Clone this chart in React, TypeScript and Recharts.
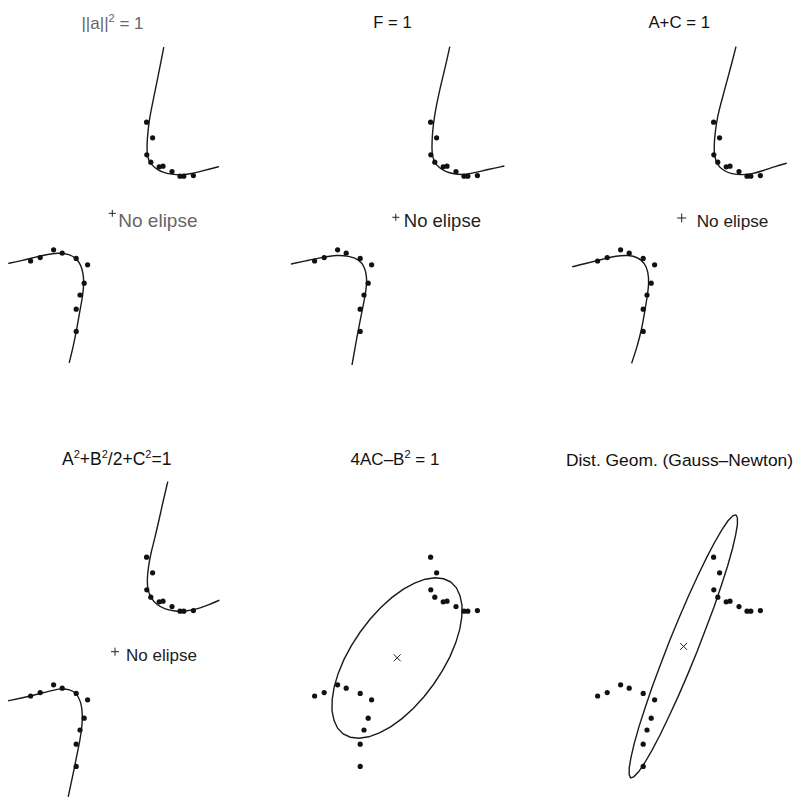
import React from 'react';
import { ScatterChart, Scatter, XAxis, YAxis } from 'recharts';

// the same 20 samples are drawn in every panel
const samples: [number, number][] = [
  [1.73, 4.79], [2.03, 4.01], [1.74, 3.16], [1.94, 2.79], [2.36, 2.56],
  [2.55, 2.59], [3.0, 2.32], [3.4, 2.09], [3.59, 2.09], [4.07, 2.12],
  [-4.07, -2.15], [-3.59, -1.98], [-2.92, -1.59], [-2.49, -1.76], [-1.79, -2.02],
  [-1.22, -2.34], [-1.39, -3.26], [-1.6, -3.85], [-1.79, -4.56], [-1.79, -5.67],
];

// hyperbola branches (no ellipse found)
const upper1: [number, number][] = [
  [2.59, 8.54], [2.4, 7.57], [2.2, 6.57], [1.99, 5.57], [1.85, 4.82], [1.79, 4.24],
  [1.75, 3.74], [1.75, 3.24], [1.82, 2.9], [1.99, 2.65], [2.24, 2.44], [2.57, 2.27],
  [2.99, 2.19], [3.4, 2.14], [3.9, 2.2], [4.4, 2.32], [4.9, 2.45], [5.35, 2.57],
];
const lower1: [number, number][] = [
  [-5.19, -2.27], [-4.6, -2.15], [-3.94, -1.99], [-3.27, -1.82], [-2.69, -1.74],
  [-2.19, -1.8], [-1.8, -1.99], [-1.55, -2.35], [-1.44, -2.77], [-1.4, -3.27],
  [-1.47, -3.94], [-1.6, -4.6], [-1.77, -5.6], [-1.94, -6.44], [-2.14, -7.24],
];
const upper2: [number, number][] = [
  [2.69, 8.57], [2.47, 7.57], [2.22, 6.57], [1.97, 5.4], [1.85, 4.57], [1.8, 3.9],
  [1.79, 3.23], [1.89, 2.82], [2.14, 2.52], [2.47, 2.32], [2.89, 2.2], [3.39, 2.15],
  [3.97, 2.27], [4.64, 2.44], [5.42, 2.6],
];
const lower2: [number, number][] = [
  [-5.25, -2.3], [-4.54, -2.15], [-3.7, -1.97], [-2.95, -1.85], [-2.37, -1.9],
  [-1.84, -2.07], [-1.57, -2.44], [-1.45, -2.94], [-1.49, -3.6], [-1.62, -4.27],
  [-1.79, -5.1], [-1.95, -5.94], [-2.2, -7.35],
];
const upper3: [number, number][] = [
  [2.85, 8.57], [2.64, 7.74], [2.39, 6.82], [2.14, 5.9], [1.92, 5.07], [1.8, 4.24],
  [1.75, 3.57], [1.77, 3.07], [1.92, 2.65], [2.22, 2.37], [2.64, 2.2], [3.14, 2.15],
  [3.64, 2.2], [4.22, 2.37], [4.8, 2.57], [5.39, 2.74],
];
const lower3: [number, number][] = [
  [-5.34, -2.44], [-4.62, -2.27], [-3.87, -2.07], [-3.12, -1.89], [-2.54, -1.85],
  [-2.04, -1.97], [-1.7, -2.27], [-1.54, -2.69], [-1.5, -3.27], [-1.59, -3.94],
  [-1.7, -4.6], [-1.87, -5.6], [-2.12, -6.52], [-2.37, -7.27],
];
const upper4: [number, number][] = [
  [2.79, 8.57], [2.57, 7.65], [2.35, 6.65], [2.12, 5.65], [1.94, 4.99], [1.82, 4.32],
  [1.75, 3.65], [1.79, 3.15], [1.94, 2.74], [2.24, 2.4], [2.65, 2.19], [3.15, 2.08],
  [3.65, 2.08], [4.24, 2.19], [4.82, 2.4], [5.37, 2.64],
];
const lower4: [number, number][] = [
  [-5.19, -2.39], [-4.6, -2.27], [-3.94, -2.12], [-3.27, -1.94], [-2.6, -1.77],
  [-2.1, -1.82], [-1.77, -2.02], [-1.55, -2.44], [-1.47, -3.02], [-1.5, -3.69],
  [-1.6, -4.35], [-1.74, -5.02], [-1.9, -5.85], [-2.19, -7.19],
];

// ellipse outlines (4AC-B^2=1 and geometric distance)
const ellipse5: [number, number][] = [
  [2.74, 3.55], [2.38, 3.71], [1.95, 3.76], [1.46, 3.69], [0.93, 3.49], [0.37, 3.19],
  [-0.2, 2.78], [-0.76, 2.27], [-1.3, 1.69], [-1.79, 1.05], [-2.23, 0.37], [-2.6, -0.32],
  [-2.89, -1.02], [-3.09, -1.69], [-3.19, -2.32], [-3.2, -2.88], [-3.1, -3.37], [-2.92, -3.76],
  [-2.64, -4.05], [-2.28, -4.21], [-1.85, -4.26], [-1.36, -4.19], [-0.83, -3.99], [-0.27, -3.69],
  [0.3, -3.28], [0.86, -2.77], [1.4, -2.19], [1.89, -1.55], [2.33, -0.87], [2.7, -0.18],
  [2.99, 0.52], [3.19, 1.19], [3.29, 1.82], [3.3, 2.38], [3.2, 2.87], [3.02, 3.26],
];
const ellipse6: [number, number][] = [
  [2.85, 6.91], [2.69, 6.86], [2.45, 6.61], [2.15, 6.17], [1.79, 5.55], [1.38, 4.77],
  [0.94, 3.86], [0.47, 2.84], [0.0, 1.75], [-0.47, 0.61], [-0.91, -0.54], [-1.33, -1.66],
  [-1.69, -2.72], [-2.0, -3.68], [-2.24, -4.53], [-2.4, -5.22], [-2.49, -5.75], [-2.49, -6.09],
  [-2.42, -6.24], [-2.26, -6.19], [-2.02, -5.94], [-1.72, -5.5], [-1.36, -4.88], [-0.95, -4.1],
  [-0.51, -3.19], [-0.04, -2.17], [0.43, -1.08], [0.9, 0.06], [1.34, 1.21], [1.76, 2.33],
  [2.12, 3.39], [2.43, 4.35], [2.67, 5.2], [2.83, 5.89], [2.92, 6.42], [2.92, 6.76],
];

// conic centres
const centers: [number, number][] = [
  [0.015, 0.235], [-0.01, 0.035], [0.135, 0.0], [0.15, 0.065], [0.06, -0.24], [0.23, 0.33],
];

// titles, "^" marks a superscript piece
const titles: string[][] = [
  ['||a||', '^2', ' = 1'],
  ['F = 1'],
  ['A+C = 1'],
  ['A', '^2', '+B', '^2', '/2+C', '^2', '=1'],
  ['4AC–B', '^2', ' = 1'],
  ['Dist. Geom. (Gauss–Newton)'],
];

const W = 232;
const H = 365;
const colLeft = [0, 284, 567];
const rowTop = [0, 435];
const font = '"Liberation Sans", Arial, Helvetica, sans-serif';

type Panel = {
  curves: [number, number][][];
  closed: boolean;
  center: [number, number];
  marker: '+' | 'x';
  markerSize: number;
  note?: { dx: number; dy: number; size: number; color: string };
  title: { x: number; y: number; size: number; color: string };
  col: number;
  row: number;
};

const panels: Panel[] = [
  { curves: [upper1, lower1], closed: false, center: centers[0], marker: '+', markerSize: 3.5,
    note: { dx: 6, dy: 13.4, size: 19, color: '#666' },
    title: { x: 112.5, y: 29.3, size: 17, color: '#666' }, col: 0, row: 0 },
  { curves: [upper2, lower2], closed: false, center: centers[1], marker: '+', markerSize: 3.5,
    note: { dx: 8, dy: 9.4, size: 18.5, color: '#222' },
    title: { x: 392.5, y: 28.3, size: 16.6, color: '#111' }, col: 1, row: 0 },
  { curves: [upper3, lower3], closed: false, center: centers[2], marker: '+', markerSize: 4.5,
    note: { dx: 15, dy: 8.7, size: 17.2, color: '#222' },
    title: { x: 679.2, y: 28.3, size: 16.8, color: '#111' }, col: 2, row: 0 },
  { curves: [upper4, lower4], closed: false, center: centers[3], marker: '+', markerSize: 4,
    note: { dx: 11, dy: 9, size: 17, color: '#222' },
    title: { x: 116.7, y: 465, size: 17.5, color: '#111' }, col: 0, row: 1 },
  { curves: [ellipse5], closed: true, center: centers[4], marker: 'x', markerSize: 3.5,
    title: { x: 395, y: 465, size: 17, color: '#111' }, col: 1, row: 1 },
  { curves: [ellipse6], closed: true, center: centers[5], marker: 'x', markerSize: 3.5,
    title: { x: 679.5, y: 465.7, size: 17.4, color: '#111' }, col: 2, row: 1 },
];

const toRows = (pts: [number, number][]) => pts.map(([x, y]) => ({ x, y }));

const Dot = (props: any) => <circle cx={props.cx} cy={props.cy} r={2.6} fill="#111" />;
const NoShape = () => <g />;

const makeMarker = (p: Panel) => (props: any) => {
  const { cx, cy } = props;
  const s = p.markerSize;
  return (
    <g>
      {p.marker === '+' ? (
        <>
          <line x1={cx - s} y1={cy} x2={cx + s} y2={cy} stroke="#222" strokeWidth={1} />
          <line x1={cx} y1={cy - s} x2={cx} y2={cy + s} stroke="#222" strokeWidth={1} />
        </>
      ) : (
        <>
          <line x1={cx - s} y1={cy - s} x2={cx + s} y2={cy + s} stroke="#222" strokeWidth={1} />
          <line x1={cx - s} y1={cy + s} x2={cx + s} y2={cy - s} stroke="#222" strokeWidth={1} />
        </>
      )}
      {p.note && (
        <text x={cx + p.note.dx} y={cy + p.note.dy} fontSize={p.note.size} fill={p.note.color}
          fontFamily={font}>
          No elipse
        </text>
      )}
    </g>
  );
};

const PanelChart = ({ p }: { p: Panel }) => (
  <div style={{ position: 'absolute', left: colLeft[p.col], top: rowTop[p.row], width: W, height: H }}>
    <ScatterChart width={W} height={H} margin={{ top: 0, right: 0, bottom: 0, left: 0 }}>
      <XAxis type="number" dataKey="x" domain={[-5.6, 6.0]} hide allowDataOverflow />
      <YAxis type="number" dataKey="y" domain={[-7.35, 10.9]} hide allowDataOverflow />
      {p.curves.map((c, i) => (
        <Scatter
          key={i}
          data={toRows(p.closed ? [...c, c[0]] : c)}
          line={{ stroke: '#1a1a1a', strokeWidth: 1.4 }}
          lineJointType={p.closed ? 'linear' : 'basis'}
          shape={NoShape}
          isAnimationActive={false}
        />
      ))}
      <Scatter data={toRows(samples)} shape={Dot} isAnimationActive={false} />
      <Scatter data={toRows([p.center])} shape={makeMarker(p)} isAnimationActive={false} />
    </ScatterChart>
  </div>
);

// superscripts are raised 7px; the piece after one drops back down
const TitleText = ({ parts, t }: { parts: string[]; t: Panel['title'] }) => (
  <text x={t.x} y={t.y} fontSize={t.size} fill={t.color}>
    {parts.map((s, i) => {
      const sup = s.startsWith('^');
      const prevSup = i > 0 && parts[i - 1].startsWith('^');
      const dy = sup ? -7 : prevSup ? 7 : undefined;
      return (
        <tspan key={i} dy={dy} fontSize={sup ? 11 : undefined}>
          {sup ? s.slice(1) : s}
        </tspan>
      );
    })}
  </text>
);

export default function App() {
  return (
    <div style={{ position: 'absolute', left: 0, top: 0, width: 799, height: 800, background: '#fff', overflow: 'hidden' }}>
      {panels.map((p, i) => (
        <PanelChart key={i} p={p} />
      ))}
      <svg width={799} height={800} style={{ position: 'absolute', left: 0, top: 0, pointerEvents: 'none' }}
        fontFamily={font} textAnchor="middle">
        {panels.map((p, i) => (
          <TitleText key={i} parts={titles[i]} t={p.title} />
        ))}
      </svg>
    </div>
  );
}
